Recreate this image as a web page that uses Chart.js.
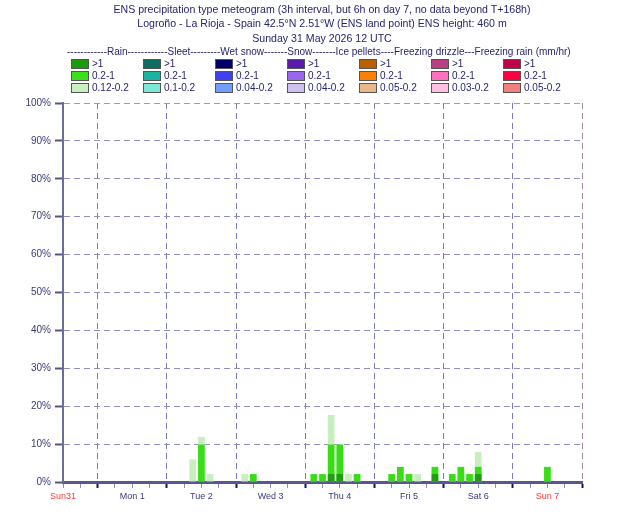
<!DOCTYPE html>
<html>
<head>
<meta charset="utf-8">
<script src="https://cdn.jsdelivr.net/npm/chart.js@4"></script>
<style>
  body { margin: 0; background: #fff; font-family: "Liberation Sans", Arial, sans-serif; color: #26266e; }
  #wrap { position: relative; width: 630px; height: 525px; overflow: hidden; }
  #chart { position: absolute; left: 0; top: 0; }
  .title { position: absolute; left: 0; width: 644px; text-align: center; font-size: 10.6px; white-space: nowrap; line-height: 12px; }
  .lg-box { position: absolute; width: 16px; height: 8px; border: 1px solid #555; }
  .lg-txt { position: absolute; font-size: 10px; line-height: 10px; white-space: nowrap; }
</style>
</head>
<body>
<div id="wrap">
  <canvas id="chart" width="630" height="525"></canvas>
  <div class="title" style="top:3px">ENS precipitation type meteogram (3h interval, but 6h on day 7, no data beyond T+168h)</div>
  <div class="title" style="top:17px">Logroño - La Rioja - Spain 42.5°N 2.51°W (ENS land point) ENS height: 460 m</div>
  <div class="title" style="top:32px">Sunday 31 May 2026 12 UTC</div>
  <div class="title" style="top:46px;left:67px;width:auto;text-align:left;font-size:10px">------------Rain------------Sleet---------Wet snow-------Snow-------Ice pellets----Freezing drizzle---Freezing rain (mm/hr)</div>
</div>
<script>
// ENS precipitation type meteogram: probability (%) of rain above each threshold, per 3h step.
// Hours are counted from the base time, Sunday 31 May 12 UTC.

const HOURS      = [45, 48, 51, 63, 66, 87, 90, 93, 96, 99, 102, 114, 117, 120, 123, 129, 135, 138, 141, 144, 168];
const RAIN_LIGHT = [5.9, 11.8, 2.0, 2.0, 2.0, 2.0, 2.0, 17.6, 9.8, 2.0, 2.0, 2.0, 3.9, 2.0, 2.0, 3.9, 2.0, 3.9, 2.0, 7.8, 3.9];
const RAIN_MOD   = [0, 9.8, 0, 0, 2.0, 2.0, 2.0, 9.8, 9.8, 0, 2.0, 2.0, 3.9, 2.0, 0, 3.9, 2.0, 3.9, 2.0, 3.9, 3.9];
const RAIN_HEAVY = [0, 0, 0, 0, 0, 0, 0, 2.0, 2.0, 0, 0, 0, 0, 0, 0, 2.0, 0, 0, 0, 2.0, 0];

const DAY_LABELS = ['Sun31', 'Mon 1', 'Tue 2', 'Wed 3', 'Thu 4', 'Fri 5', 'Sat 6', 'Sun 7'];

// ── Legend (7 precipitation types x 3 classes) ─────────────────────────────
const LEGEND_CLASSES = [
  ['>1', '0.2-1', '0.12-0.2'],
  ['>1', '0.2-1', '0.1-0.2'],
  ['>1', '0.2-1', '0.04-0.2'],
  ['>1', '0.2-1', '0.04-0.2'],
  ['>1', '0.2-1', '0.05-0.2'],
  ['>1', '0.2-1', '0.03-0.2'],
  ['>1', '0.2-1', '0.05-0.2']
];
const LEGEND_COLORS = [
  ['#1a9a0c', '#3ce01a', '#c8f0c0'],
  ['#0e6e62', '#1ab4a0', '#7ee8d8'],
  ['#000066', '#4040f0', '#70a0ff'],
  ['#5a1aaa', '#9966ee', '#d0c0f0'],
  ['#b86000', '#ff8000', '#e8b888'],
  ['#b84080', '#ff70c0', '#ffc0e0'],
  ['#c00048', '#ff0040', '#f08080']
];

const wrap = document.getElementById('wrap');
LEGEND_CLASSES.forEach((col, i) => {
  col.forEach((txt, r) => {
    const box = document.createElement('div');
    box.className = 'lg-box';
    box.style.left = (71 + 72 * i) + 'px';
    box.style.top = (59 + 12 * r) + 'px';
    box.style.background = LEGEND_COLORS[i][r];
    wrap.appendChild(box);

    const lab = document.createElement('div');
    lab.className = 'lg-txt';
    lab.style.left = (92 + 72 * i) + 'px';
    lab.style.top = (59 + 12 * r) + 'px';
    lab.textContent = txt;
    wrap.appendChild(lab);
  });
});

// ── Chart ──────────────────────────────────────────────────────────────────
const pts = arr => HOURS.map((h, i) => ({ x: h, y: arr[i] }));

const datasets = [
  { label: 'Rain >1',       data: pts(RAIN_HEAVY), backgroundColor: '#1f9e10', order: 1 },
  { label: 'Rain 0.2-1',    data: pts(RAIN_MOD),   backgroundColor: '#38dd16', order: 2 },
  { label: 'Rain 0.12-0.2', data: pts(RAIN_LIGHT), backgroundColor: '#c8eec0', order: 3 }
];

new Chart(document.getElementById('chart'), {
  type: 'bar',
  data: { datasets },
  options: {
    responsive: false,
    animation: false,
    layout: { padding: { top: 103, right: 48, left: 0, bottom: 0 } },
    datasets: { bar: { barThickness: 6, grouped: false, borderWidth: 0 } },
    plugins: { legend: { display: false }, tooltip: { enabled: false } },
    scales: {
      x: {
        type: 'linear',
        min: 0,
        max: 180,
        offset: false,
        afterFit: s => { s.height = 43; },
        ticks: {
          stepSize: 6,
          autoSkip: false,
          maxRotation: 0,
          padding: 3,
          font: { family: 'Liberation Sans', size: 9 },
          color: c => (c.tick.value === 0 || c.tick.value === 168) ? '#ff3a3a' : '#3a3a78',
          callback: v => (v % 24 === 0) ? DAY_LABELS[v / 24] : ''
        },
        grid: {
          offset: false,
          lineWidth: 1,
          color: c => {
            const v = c.tick.value;
            if (v === 180) return '#a08c98';
            return v % 24 === 12 ? '#7c7cb4' : 'rgba(0,0,0,0)';
          },
          tickLength: 6,
          tickColor: c => c.tick.value % 24 === 12 ? '#141464' : '#8c8cc4',
          tickWidth: c => c.tick.value % 24 === 12 ? 2 : 1
        },
        border: { color: '#58588c', width: 3, dash: [6, 4] }
      },
      y: {
        min: 0,
        max: 100,
        afterFit: s => { s.width = 63; },
        ticks: {
          stepSize: 10,
          padding: 4,
          font: { family: 'Liberation Sans', size: 10 },
          color: '#3a3a78',
          callback: v => v + '%'
        },
        grid: {
          lineWidth: 1,
          color: c => {
            const v = c.tick.value;
            if (v === 0) return 'rgba(0,0,0,0)';
            return v === 100 ? '#a49cb0' : '#9090c4';
          },
          tickLength: 8,
          tickColor: '#55558c',
          tickWidth: 2
        },
        border: { color: '#6c6c9a', width: 2, dash: [6, 4] }
      }
    }
  }
});
</script>
</body>
</html>
